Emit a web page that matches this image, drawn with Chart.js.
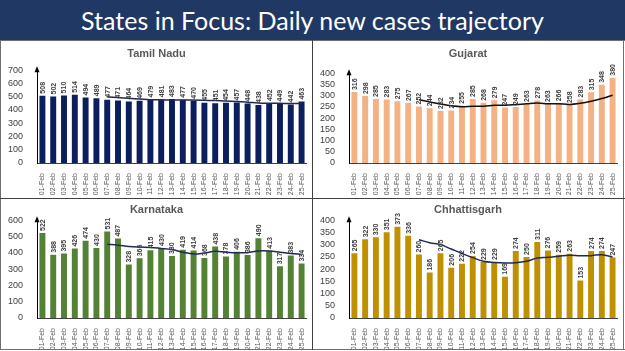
<!DOCTYPE html>
<html><head><meta charset="utf-8">
<script src="https://cdn.jsdelivr.net/npm/chart.js@4.4.1/dist/chart.umd.min.js"></script>
<style>
body{margin:0;width:625px;height:351px;overflow:hidden;background:#fff;font-family:'Liberation Sans',Arial,sans-serif}
#hdr{position:absolute;left:0;top:0;width:625px;height:40px;background:#203864;color:#fff;font-family:Lato,sans-serif;font-size:25px;text-align:center;line-height:40px}
canvas{position:absolute;display:block}
.ln{position:absolute;background:#6f6f6f}
</style></head><body>
<div id="hdr">States in Focus: Daily new cases trajectory</div>
<div class="ln" style="left:0;top:40px;width:625px;height:1px"></div>
<div class="ln" style="left:0;top:349px;width:625px;height:1px"></div>
<div class="ln" style="left:0;top:40px;width:1px;height:310px"></div>
<div class="ln" style="left:623px;top:40px;width:1px;height:310px"></div>
<div class="ln" style="left:312px;top:40px;width:1px;height:310px;background:#404040"></div>
<div class="ln" style="left:0;top:198px;width:625px;height:1px;background:#404040"></div>
<canvas id="c1" width="311" height="157" style="left:1px;top:41px"></canvas>
<canvas id="c2" width="310" height="157" style="left:313px;top:41px"></canvas>
<canvas id="c3" width="311" height="150" style="left:1px;top:199px"></canvas>
<canvas id="c4" width="310" height="150" style="left:313px;top:199px"></canvas>
<script>
const dates = ["01-Feb","02-Feb","03-Feb","04-Feb","05-Feb","06-Feb","07-Feb","08-Feb","09-Feb","10-Feb","11-Feb","12-Feb","13-Feb","14-Feb","15-Feb","16-Feb","17-Feb","18-Feb","19-Feb","20-Feb","21-Feb","22-Feb","23-Feb","24-Feb","25-Feb"];

const tamilNaduCases = [508,502,510,514,494,489,477,471,464,469,479,481,483,477,470,455,451,454,457,448,438,452,449,442,463];
const tamilNaduAvg = [null,null,null,null,null,null,499,494,488,483,478,476,475,475,475,473,471,467,464,459,453,451,450,449,450];

const gujaratCases = [316,298,285,283,275,267,252,244,232,234,255,285,268,279,247,249,263,278,263,266,258,283,315,348,380];
const gujaratAvg = [null,null,null,null,null,null,282,272,263,255,251,253,253,257,257,260,264,267,264,264,261,266,275,287,302];

const karnatakaCases = [522,388,395,426,474,430,531,487,328,366,415,430,380,419,414,368,438,378,406,386,490,413,317,383,334];
const karnatakaAvg = [null,null,null,null,null,null,452,447,439,435,433,427,420,404,393,399,409,404,400,401,411,411,404,396,390];

const chhattisgarhCases = [265,322,330,351,373,336,260,186,265,206,222,254,229,229,169,274,250,311,276,259,263,153,274,274,247];
const chhattisgarhAvg = [null,null,null,null,null,null,320,308,300,282,264,247,232,227,225,226,232,245,248,253,257,255,255,259,249];

const barLabels = {
  id:'barLabels',
  afterDatasetsDraw(chart){
    const meta = chart.getDatasetMeta(1);
    const ds = chart.data.datasets[1];
    const ctx = chart.ctx;
    ctx.save();
    ctx.font = 'bold 7px "Liberation Sans", Arial, sans-serif';
    ctx.fillStyle = '#404040';
    ctx.textAlign = 'left';
    ctx.textBaseline = 'middle';
    meta.data.forEach((el,i)=>{
      ctx.save();
      ctx.translate(el.x, el.y - 2);
      ctx.rotate(-Math.PI/2);
      ctx.fillText(String(ds.data[i]), 0, 0.5);
      ctx.restore();
    });
    ctx.restore();
  }
};
const yArrow = {
  id:'yArrow',
  afterDraw(chart){
    const a = chart.chartArea, ctx = chart.ctx;
    const x = a.left;
    ctx.save();
    ctx.fillStyle = '#000';
    ctx.beginPath();
    ctx.moveTo(x, a.top - 4);
    ctx.lineTo(x - 2.5, a.top + 2);
    ctx.lineTo(x + 2.5, a.top + 2);
    ctx.closePath();
    ctx.fill();
    ctx.restore();
  }
};

function makeChart(id, title, cases, avg, color, lineColor, yMax, step, titlePad, xH){
  new Chart(document.getElementById(id), {
    data:{
      labels: dates,
      datasets:[
        {type:'line', data:avg, borderColor:lineColor, borderWidth:1.5, pointRadius:0, tension:0.4, order:0, spanGaps:false},
        {type:'bar', data:cases, backgroundColor:color, categoryPercentage:1, barPercentage:0.55, order:1}
      ]
    },
    options:{
      responsive:false, animation:false, devicePixelRatio:1,
      layout:{padding:{left:1,right:1,top:0,bottom:0}},
      plugins:{
        legend:{display:false}, tooltip:{enabled:false},
        title:{display:true, text:title, color:'#595959', font:{family:'"Liberation Sans", Arial, sans-serif', size:11, weight:'bold'}, padding:titlePad}
      },
      scales:{
        x:{grid:{display:false}, border:{display:true,color:'#404040',width:1},
           afterFit(s){ s.height = xH; },
           ticks:{autoSkip:false, maxRotation:90, minRotation:90, color:'#595959', padding:2, font:{family:'"Liberation Sans", Arial, sans-serif', size:7}}},
        y:{min:0, max:yMax, grid:{display:false}, border:{display:true,color:'#000',width:1},
           ticks:{autoSkip:false, stepSize:step, color:'#404040', padding:6, font:{family:'"Liberation Sans", Arial, sans-serif', size:9}}}
      }
    },
    plugins:[barLabels, yArrow]
  });
}
makeChart('c1','Tamil Nadu',tamilNaduCases,tamilNaduAvg,'#0b1f5e','#1f2a55',700,100,{top:6,bottom:10},35);
makeChart('c2','Gujarat',gujaratCases,gujaratAvg,'#f4b183','#111111',400,50,{top:6,bottom:13},35);
makeChart('c3','Karnataka',karnatakaCases,karnatakaAvg,'#548235','#1f2a55',600,100,{top:4,bottom:4},31);
makeChart('c4','Chhattisgarh',chhattisgarhCases,chhattisgarhAvg,'#bf9000','#1f2a55',400,50,{top:4,bottom:4},31);
</script>
</body></html>
